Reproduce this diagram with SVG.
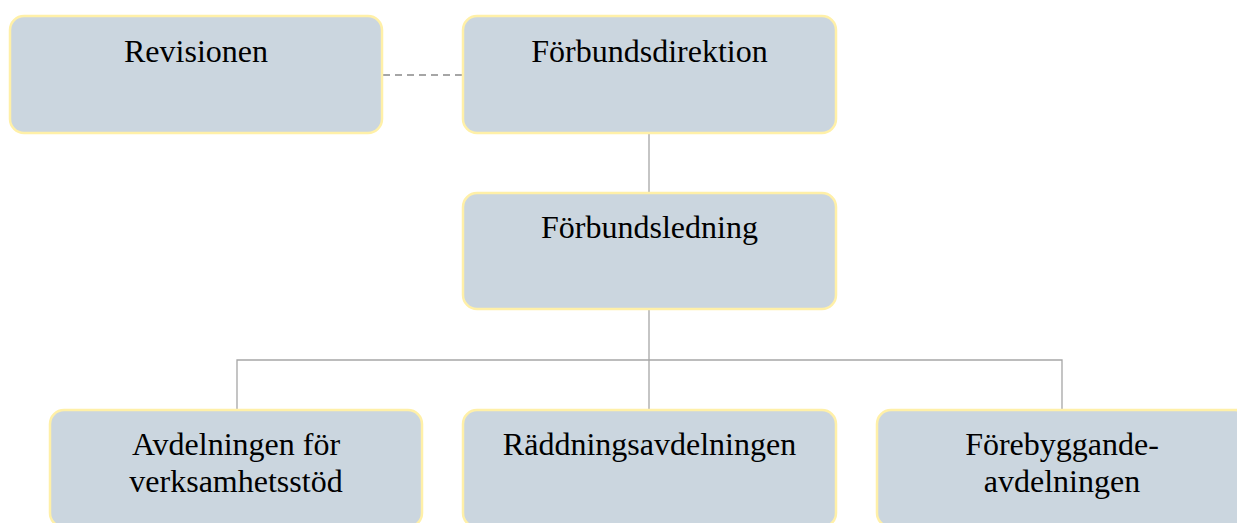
<svg xmlns="http://www.w3.org/2000/svg" width="1237" height="523" viewBox="0 0 1237 523">
<style>
.box{fill:#CBD6DF;stroke:#FFF0A8;stroke-width:2.5}
.t{font-family:"Liberation Serif","Times New Roman",serif;font-size:32px;fill:#000;text-anchor:middle}
.c{fill:none;stroke:#A6A6A6;stroke-width:1.3}
.d{fill:none;stroke:#A6A6A6;stroke-width:2;stroke-dasharray:7 5}
</style>
<rect width="1237" height="523" fill="#fff"/>
<g id="connectors">
<line class="d" x1="383" y1="75" x2="462" y2="75"/>
<line class="c" x1="649" y1="134" x2="649" y2="193"/>
<polyline class="c" points="649,310 649,360"/>
<polyline class="c" points="237,410 237,360 1062,360 1062,410"/>
<line class="c" x1="649" y1="360" x2="649" y2="410"/>
</g>
<g id="revisionen">
<rect class="box" x="10" y="16" width="372" height="117" rx="14"/>
<text class="t" x="196" y="62">Revisionen</text>
</g>
<g id="forbundsdirektion">
<rect class="box" x="463" y="16" width="373" height="117" rx="14"/>
<text class="t" x="649.5" y="62">Förbundsdirektion</text>
</g>
<g id="forbundsledning">
<rect class="box" x="463" y="193" width="373" height="116" rx="14"/>
<text class="t" x="649.5" y="238">Förbundsledning</text>
</g>
<g id="verksamhetsstod">
<rect class="box" x="50" y="410" width="372" height="117" rx="14"/>
<text class="t" x="236" y="455">Avdelningen för</text>
<text class="t" x="236" y="492">verksamhetsstöd</text>
</g>
<g id="raddning">
<rect class="box" x="463" y="410" width="373" height="117" rx="14"/>
<text class="t" x="649.5" y="455">Räddningsavdelningen</text>
</g>
<g id="forebyggande">
<rect class="box" x="877" y="410" width="372" height="117" rx="14"/>
<text class="t" x="1062" y="455">Förebyggande-</text>
<text class="t" x="1062" y="492">avdelningen</text>
</g>
</svg>
